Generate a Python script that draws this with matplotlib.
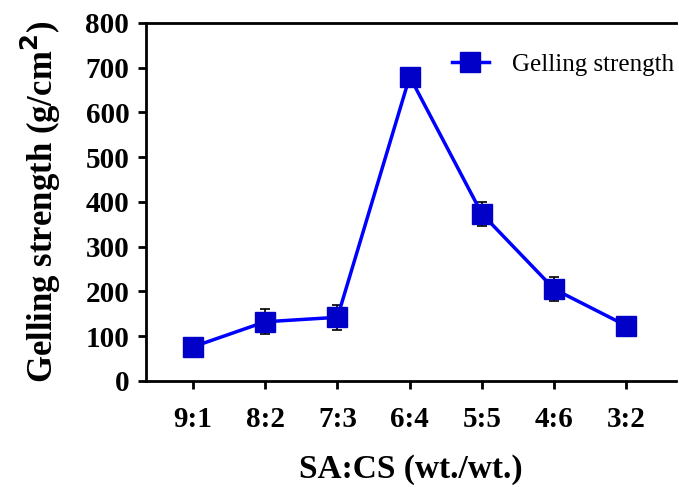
import matplotlib
matplotlib.use("Agg")
import matplotlib.pyplot as plt
import numpy as np

ratios = ["9:1", "8:2", "7:3", "6:4", "5:5", "4:6", "3:2"]
strength = [76, 132, 142, 680, 373, 205, 123]
errors = [5, 28, 28, 6, 27, 26, 12]

plt.rcParams['font.family'] = ['Liberation Serif', 'DejaVu Serif']

fig = plt.figure(figsize=(6.79, 4.87), dpi=100)
ax = fig.add_axes([0.215, 0.218, 0.78, 0.735])

xs = np.arange(len(ratios))
ax.errorbar(xs, strength, yerr=errors, fmt='none', ecolor='black',
            elinewidth=1.2, capsize=3.5, capthick=1.2, zorder=2)
ax.plot(xs, strength, color='#0000ff', lw=2.5, marker='s', markersize=14,
        markerfacecolor='#0000c8', markeredgecolor='#0000c8',
        label='Gelling strength', zorder=3)

ax.set_xlim(-0.65, 6.68)
ax.set_ylim(0, 800)
ax.set_yticks(range(0, 801, 100))
ax.set_xticks(xs)
ax.set_xticklabels(ratios)

for lab in ax.get_xticklabels() + ax.get_yticklabels():
    lab.set_fontweight('bold')
    lab.set_fontsize(21)

ax.tick_params(axis='both', direction='out', length=6, width=2)
ax.tick_params(axis='x', pad=12)
ax.tick_params(axis='y', pad=6)
ax.spines['right'].set_visible(False)
for s in ['left', 'bottom', 'top']:
    ax.spines[s].set_linewidth(2)

ax.set_xlabel('SA:CS (wt./wt.)', fontsize=24, fontweight='bold', labelpad=15)
ax.set_ylabel('Gelling strength (g/cm$^\\mathbf{2}$)', fontsize=25,
              fontweight='bold', labelpad=16)

ax.legend(loc='center left', frameon=False, fontsize=18,
          bbox_to_anchor=(0.577, 0.883), borderpad=0, borderaxespad=0,
          handlelength=1.5, handletextpad=0.9)

fig.savefig('out.png', dpi=100)
